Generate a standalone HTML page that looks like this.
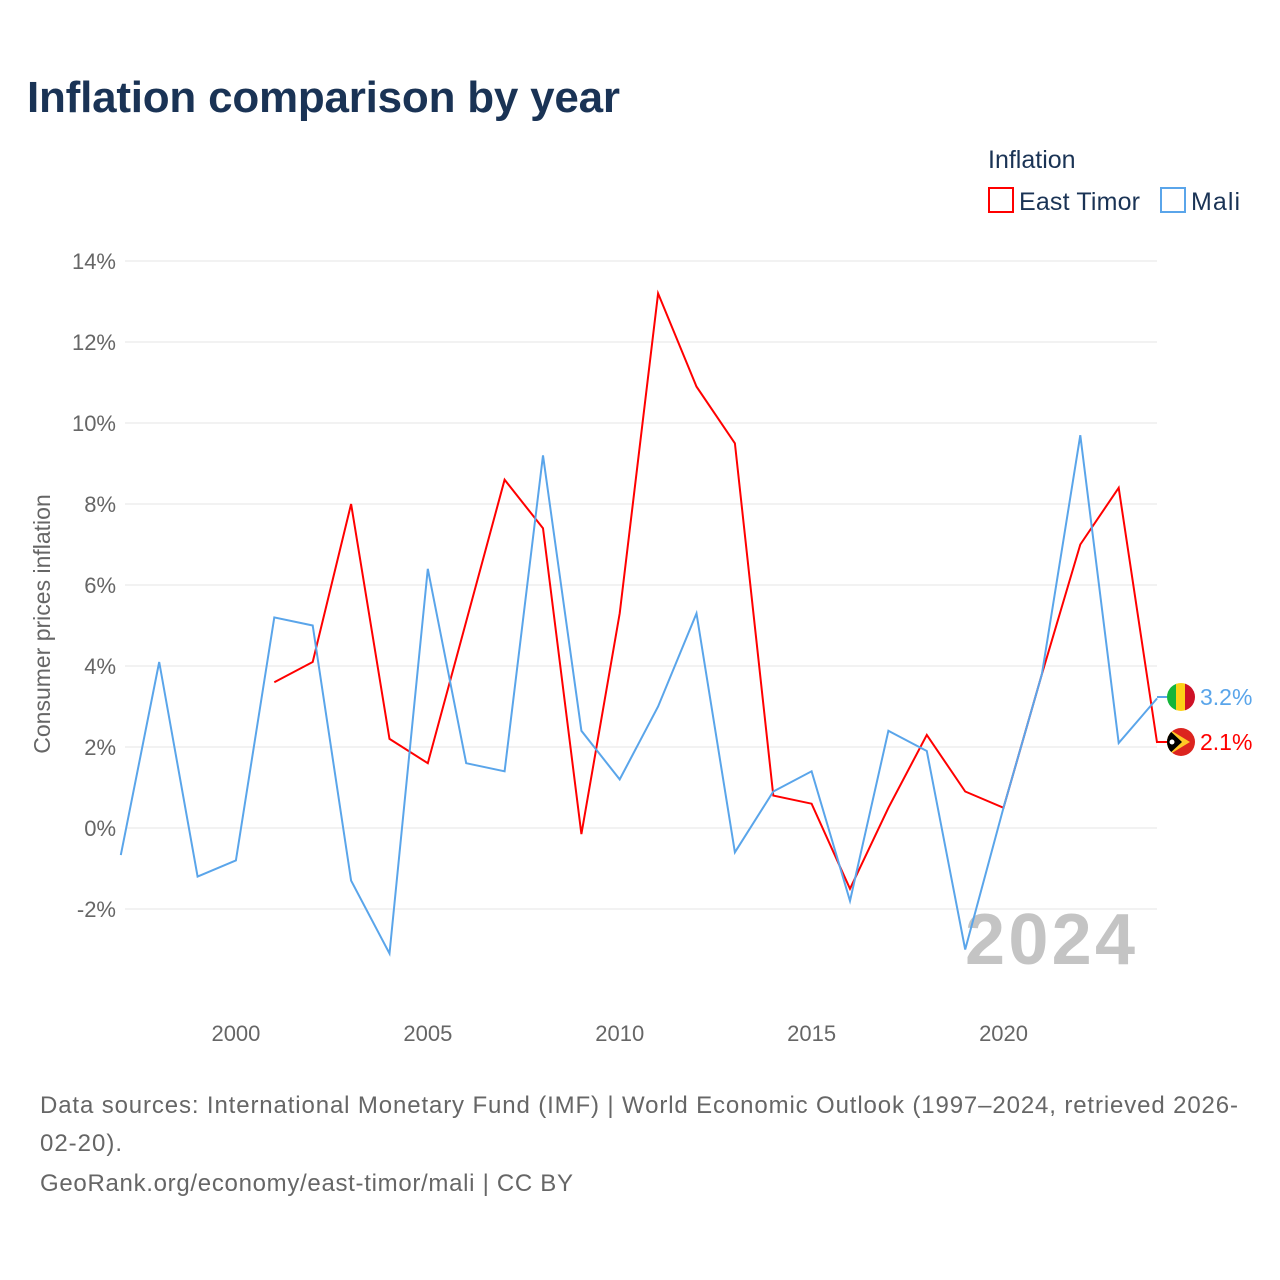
<!DOCTYPE html>
<html><head><meta charset="utf-8"><style>
body{margin:0;width:1280px;height:1280px;background:#fff;font-family:"Liberation Sans",sans-serif;overflow:hidden}
</style></head><body>
<svg id="chart" width="1280" height="1280" style="position:absolute;left:0;top:0">
<text x="27" y="112" font-size="44" font-weight="bold" fill="#1a3355" textLength="593">Inflation comparison by year</text>
<text x="988" y="168" font-size="25" fill="#1a3355">Inflation</text>
<g><rect x="989" y="188" width="24" height="24" fill="none" stroke="#ff0000" stroke-width="2"/><text x="1019" y="210" font-size="25" fill="#1a3355" textLength="121">East Timor</text></g>
<g><rect x="1161" y="188" width="24" height="24" fill="none" stroke="#5aa5ea" stroke-width="2"/><text x="1191" y="210" font-size="25" fill="#1a3355" textLength="49">Mali</text></g>
<text transform="translate(50,624) rotate(-90)" text-anchor="middle" font-size="23" fill="#666">Consumer prices inflation</text>
<g id="grid"></g><g id="xt"></g>
<text x="1135" y="964" text-anchor="end" font-size="72" font-weight="bold" fill="#c4c4c4" textLength="170">2024</text>
<g id="lines"></g>
<line x1="1157" y1="697" x2="1167" y2="697" stroke="#5aa5ea" stroke-width="2"/>
<line x1="1157" y1="742" x2="1167" y2="742" stroke="#ff0000" stroke-width="2"/>
<g><clipPath id="c1"><circle cx="1181" cy="697" r="14"/></clipPath><g clip-path="url(#c1)"><rect x="1167" y="683" width="10" height="28" fill="#14b53a"/><rect x="1176" y="683" width="10" height="28" fill="#fcd116"/><rect x="1185" y="683" width="10" height="28" fill="#ce1126"/></g></g>
<g><clipPath id="c2"><circle cx="1181" cy="742" r="14"/></clipPath><g clip-path="url(#c2)"><rect x="1167" y="728" width="28" height="28" fill="#dc241f"/><polygon points="1167,728 1190,742 1167,756" fill="#ffc726"/><polygon points="1167,728 1182,742 1167,756" fill="#000"/><circle cx="1172" cy="742" r="2.5" fill="#fff"/></g></g>
<text x="1200" y="705" font-size="23" fill="#5aa5ea">3.2%</text>
<text x="1200" y="750" font-size="23" fill="#ff0000">2.1%</text>
<text x="40" y="1113" font-size="24" fill="#666" textLength="1198">Data sources: International Monetary Fund (IMF) | World Economic Outlook (1997–2024, retrieved 2026-</text>
<text x="40" y="1151" font-size="24" fill="#666" textLength="82">02-20).</text>
<text x="40" y="1191" font-size="24" fill="#666" textLength="533">GeoRank.org/economy/east-timor/mali | CC BY</text>
</svg>
<script>
const years=[1997,1998,1999,2000,2001,2002,2003,2004,2005,2006,2007,2008,2009,2010,2011,2012,2013,2014,2015,2016,2017,2018,2019,2020,2021,2022,2023,2024];
const mali=[-0.67,4.1,-1.2,-0.8,5.2,5.0,-1.3,-3.1,6.4,1.6,1.4,9.2,2.4,1.2,3.0,5.3,-0.6,0.9,1.4,-1.8,2.4,1.9,-3.0,0.5,3.8,9.7,2.1,3.2];
const eastTimor=[null,null,null,null,3.6,4.1,8.0,2.2,1.6,5.1,8.6,7.4,-0.15,5.3,13.2,10.9,9.5,0.8,0.6,-1.5,0.5,2.3,0.9,0.5,3.8,7.0,8.4,2.1];
const yTicks=[-2,0,2,4,6,8,10,12,14];
const xTicks=[2000,2005,2010,2015,2020];
const X=y=>120.8+(y-1997)*38.38;
const Y=v=>828-v*40.5;
const NS="http://www.w3.org/2000/svg";
const g=document.getElementById('grid');
yTicks.forEach(t=>{
 const l=document.createElementNS(NS,'line');
 l.setAttribute('x1',125);l.setAttribute('x2',1157);l.setAttribute('y1',Y(t));l.setAttribute('y2',Y(t));
 l.setAttribute('stroke','#e6e6e6');
 
 
 g.appendChild(l);
 const tx=document.createElementNS(NS,'text');
 tx.setAttribute('x',116);tx.setAttribute('y',Y(t)+8);tx.setAttribute('text-anchor','end');
 tx.setAttribute('font-size',22);tx.setAttribute('fill','#666');tx.textContent=t+'%';
 
 
 g.appendChild(tx);
});
const xt=document.getElementById('xt');
xTicks.forEach(t=>{
 const tx=document.createElementNS(NS,'text');
 tx.setAttribute('x',X(t));tx.setAttribute('y',1041);tx.setAttribute('text-anchor','middle');
 tx.setAttribute('font-size',22);tx.setAttribute('fill','#666');tx.textContent=t;
 
 
 xt.appendChild(tx);
});
function line(vals,color,name){
 let d='';vals.forEach((v,i)=>{if(v==null)return;d+=(d?'L':'M')+X(years[i]).toFixed(1)+','+Y(v).toFixed(1);});
 const p=document.createElementNS(NS,'path');
 p.setAttribute('d',d);p.setAttribute('fill','none');p.setAttribute('stroke',color);p.setAttribute('stroke-width',2);
 
 
 document.getElementById('lines').appendChild(p);
}
line(eastTimor,'#ff0000','east-timor-line');
line(mali,'#5aa5ea','mali-line');
</script>
</body></html>
